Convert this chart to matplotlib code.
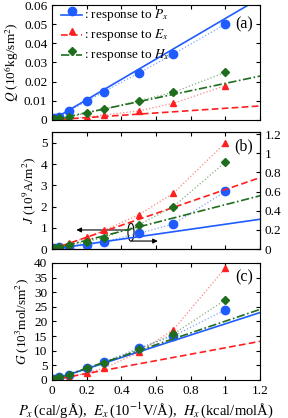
import numpy as np
import matplotlib
matplotlib.use("Agg")
import matplotlib.pyplot as plt
from matplotlib.lines import Line2D
from matplotlib.legend_handler import HandlerLine2DCompound
from matplotlib.patches import Ellipse, FancyArrowPatch

plt.rcParams['font.family'] = ['Liberation Serif', 'DejaVu Serif']
plt.rcParams['mathtext.fontset'] = 'stix'
plt.rcParams['font.size'] = 9

# field strength (same x for all three responses)
x = [0.01, 0.04, 0.1, 0.2, 0.3, 0.5, 0.7, 1.0]

# (a) heat flux Q
q_p = [0.001, 0.0018, 0.0049, 0.0097, 0.0148, 0.0245, 0.0344, 0.050]
q_e = [0.0002, 0.0004, 0.0008, 0.0015, 0.0026, 0.0047, 0.0087, 0.0179]
q_h = [0.0003, 0.0008, 0.0015, 0.0038, 0.0056, 0.0101, 0.0144, 0.0249]
q_slope = [0.053, 0.0061, 0.0191]

# (b) current J
j_p = [0.05, 0.1, 0.12, 0.19, 0.35, 0.74, 1.18, 2.71]
j_e = [0.05, 0.15, 0.28, 0.55, 0.88, 1.61, 2.63, 5.0]
j_h = [0.03, 0.12, 0.18, 0.35, 0.54, 1.14, 2.0, 4.09]
j_slope = [1.17, 2.8, 2.09]

# (c) mass flux G
g_p = [0.2, 0.9, 1.8, 4.0, 6.1, 10.9, 15.0, 24.0]
g_e = [0.05, 0.3, 0.8, 2.5, 4.0, 9.4, 17.2, 38.3]
g_h = [0.4, 1.0, 1.8, 4.0, 5.7, 10.5, 15.7, 27.4]
g_slope = [19.2, 11.0, 20.1]

labels = [': response to $P_x$', ': response to $E_x$', ': response to $H_x$']
colors = ['#1f5cff', '#ff1f1f', '#1e6e1e']
markers = ['o', '^', 'D']
msizes = [6, 5, 4]
lstyles = ['-', (0, (4, 2)), (0, (5, 1.5, 1, 1.5))]

xl = np.array([0, 1.2])


class HandlerUp(HandlerLine2DCompound):
    # marker a bit above the line, like the original legend
    def create_artists(self, legend, orig_handle, xdescent, ydescent,
                       width, height, fontsize, trans):
        line, mark = super().create_artists(legend, orig_handle, xdescent, ydescent,
                                            width, height, fontsize, trans)
        line.set_ydata(np.asarray(line.get_ydata()) - 0.22 * height)
        mark.set_ydata(np.asarray(mark.get_ydata()) + 0.22 * height)
        return [line, mark]


def panel(ax, ys, slopes):
    for i in range(3):
        ax.plot(x, ys[i], ls=':', lw=0.9, color=colors[i], alpha=0.55)
        ax.plot(x, ys[i], ls='none', marker=markers[i], ms=msizes[i],
                mfc=colors[i], mec=colors[i])
        ax.plot(xl, slopes[i] * xl, ls=lstyles[i], lw=1.2, color=colors[i])
    ax.set_xlim(0, 1.2)
    ax.set_xticks([0, 0.2, 0.4, 0.6, 0.8, 1, 1.2])
    ax.tick_params(direction='in', top=True, right=True, length=3, labelsize=9.5)


fig = plt.figure(figsize=(2.88, 4.18), dpi=100)
ax1 = fig.add_axes([0.181, 0.713, 0.722, 0.275])
ax2 = fig.add_axes([0.181, 0.404, 0.722, 0.280])
ax3 = fig.add_axes([0.181, 0.091, 0.722, 0.280])

# (a)
panel(ax1, [q_p, q_e, q_h], q_slope)
ax1.set_ylim(0, 0.06)
ax1.set_yticks([0, 0.01, 0.02, 0.03, 0.04, 0.05, 0.06])
ax1.set_yticklabels(['0', '0.01', '0.02', '0.03', '0.04', '0.05', '0.06'])
ax1.set_xticklabels([])
ax1.set_ylabel('$Q$ (10$^6$kg/sm$^2$)', fontsize=9.5, labelpad=2)
ax1.text(0.965, 0.80, '(a)', transform=ax1.transAxes, ha='right', fontsize=11.5)
handles = [Line2D([], [], color=colors[i], ls=lstyles[i], lw=1.2,
                  marker=markers[i], ms=msizes[i]) for i in range(3)]
ax1.legend(handles, labels, loc='upper left', frameon=False, fontsize=9.5,
           numpoints=1, handlelength=1.6, handletextpad=0.15, labelspacing=0.3,
           borderaxespad=0, borderpad=0.15, bbox_to_anchor=(0.035, 1.0),
           handler_map={Line2D: HandlerUp()})

# (b)
panel(ax2, [j_p, j_e, j_h], j_slope)
ax2.set_ylim(0, 5.5)
ax2.set_yticks([0, 1, 2, 3, 4, 5])
ax2.tick_params(right=False)
ax2.set_xticklabels([])
ax2.set_ylabel('$J$ (10$^9$A/m$^2$)', fontsize=9.5, labelpad=2)
ax2.text(0.965, 0.84, '(b)', transform=ax2.transAxes, ha='right', fontsize=11.5)
ax2r = ax2.twinx()
ax2r.set_ylim(0, 1.22)
ax2r.set_yticks([0, 0.2, 0.4, 0.6, 0.8, 1, 1.2])
ax2r.set_yticklabels(['0', '0.2', '0.4', '0.6', '0.8', '1', '1.2'])
ax2r.tick_params(direction='in', length=3, labelsize=9.5)
ax2.add_patch(Ellipse((0.455, 0.8), 0.035, 0.85, fill=False, lw=0.8, color='k'))
ax2.add_patch(FancyArrowPatch((0.45, 0.9), (0.14, 0.9), arrowstyle='-|>',
                              mutation_scale=7, lw=0.8, color='k',
                              shrinkA=0, shrinkB=0))
ax2.add_patch(FancyArrowPatch((0.46, 0.38), (0.61, 0.38), arrowstyle='-|>',
                              mutation_scale=7, lw=0.8, color='k',
                              shrinkA=0, shrinkB=0))

# (c)
panel(ax3, [g_p, g_e, g_h], g_slope)
ax3.set_ylim(0, 40)
ax3.set_yticks(range(0, 41, 5))
ax3.set_xticklabels(['0', '0.2', '0.4', '0.6', '0.8', '1', '1.2'])
ax3.set_ylabel('$G$ (10$^3$mol/sm$^2$)', fontsize=9.5, labelpad=2)
ax3.text(0.965, 0.84, '(c)', transform=ax3.transAxes, ha='right', fontsize=11.5)
ax3.set_xlabel('$P_x\\,$(cal/gÅ),  $E_x\\,$(10$^{-1}$V/Å),  $H_x\\,$(kcal/molÅ)',
               fontsize=10.5)
ax3.xaxis.set_label_coords(0.45, -0.17)

fig.align_ylabels([ax1, ax2, ax3])
plt.savefig('out.png', dpi=100)
